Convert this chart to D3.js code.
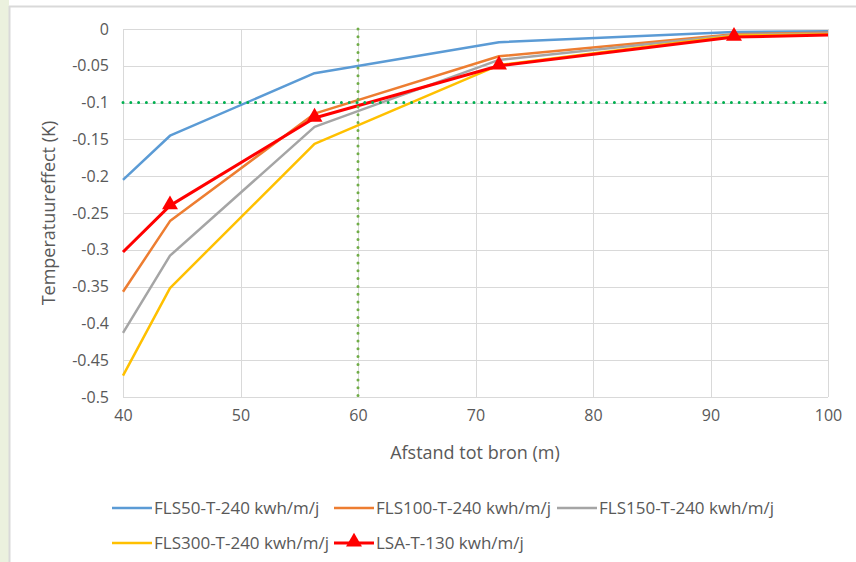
<!DOCTYPE html>
<html><head><meta charset="utf-8">
<script src="https://cdn.jsdelivr.net/npm/d3@7"></script>
<style>
html,body{margin:0;padding:0;background:#fff;}
svg{display:block;}
text{font-family:"Open Sans","Noto Sans",sans-serif;fill:#595959;}
</style></head>
<body>
<svg id="c" width="856" height="562"></svg>
<script>
const distances = [40, 44, 56.3, 72, 92, 100];
const seriesNames = ["FLS50-T-240 kwh/m/j","FLS100-T-240 kwh/m/j","FLS150-T-240 kwh/m/j","FLS300-T-240 kwh/m/j","LSA-T-130 kwh/m/j"];
const fls50  = [-0.205, -0.145, -0.060, -0.018, -0.004, -0.003];
const fls100 = [-0.357, -0.261, -0.115, -0.037, -0.007, -0.005];
const fls150 = [-0.413, -0.308, -0.133, -0.042, -0.008, -0.006];
const fls300 = [-0.471, -0.352, -0.156, -0.049, -0.009, -0.007];
const lsa    = [-0.303, -0.240, -0.121, -0.050, -0.011, -0.008];
const xTicks = [40, 50, 60, 70, 80, 90, 100];
const yTicks = [0, -0.05, -0.1, -0.15, -0.2, -0.25, -0.3, -0.35, -0.4, -0.45, -0.5];
const thresholdY = -0.1;
const thresholdX = 60;

const colors = ["#5b9bd5","#ed7d31","#a5a5a5","#ffc000","#ff0000"];
const allSeries = [fls50, fls100, fls150, fls300, lsa];

const svg = d3.select("#c");
// frame
svg.append("rect").attr("x",0).attr("y",0).attr("width",9).attr("height",562).attr("fill","#ebf1de");
svg.append("line").attr("x1",9.5).attr("x2",9.5).attr("y1",6).attr("y2",562).attr("stroke","#d9d9d9").attr("stroke-width",2);
svg.append("line").attr("x1",9).attr("x2",856).attr("y1",6.5).attr("y2",6.5).attr("stroke","#d9d9d9").attr("stroke-width",2);

const x = d3.scaleLinear().domain([40,100]).range([123,828]);
const y = d3.scaleLinear().domain([-0.5,0]).range([397,29]);

// gridlines
const g = svg.append("g");
g.selectAll(".hg").data(yTicks).join("line")
  .attr("x1",x(40)).attr("x2",x(100)).attr("y1",d=>Math.round(y(d))+0.5).attr("y2",d=>Math.round(y(d))+0.5)
  .attr("stroke","#d9d9d9").attr("stroke-width",1);
g.selectAll(".vg").data(xTicks).join("line")
  .attr("y1",y(0)).attr("y2",y(-0.5)).attr("x1",d=>Math.round(x(d))+0.5).attr("x2",d=>Math.round(x(d))+0.5)
  .attr("stroke","#d9d9d9").attr("stroke-width",1);

// axes labels via d3 axes
const ya = svg.append("g").attr("transform",`translate(${x(40)},0)`)
  .call(d3.axisLeft(y).tickValues(yTicks).tickSize(0).tickPadding(14).tickFormat(d=>d===0?"0":String(d)));
ya.select(".domain").remove();
ya.selectAll("text").attr("font-size",16).style("font-family","'Open Sans','Noto Sans',sans-serif").attr("fill","#595959");
const xa = svg.append("g").attr("transform",`translate(0,${y(-0.5)})`)
  .call(d3.axisBottom(x).tickValues(xTicks).tickSize(0).tickPadding(13).tickFormat(d3.format("d")));
xa.select(".domain").remove();
xa.selectAll("text").attr("font-size",16).style("font-family","'Open Sans','Noto Sans',sans-serif").attr("fill","#595959");

// axis titles
svg.append("text").attr("x",475).attr("y",459).attr("text-anchor","middle").attr("font-size",18).text("Afstand tot bron (m)");
svg.append("text").attr("transform","translate(55,213) rotate(-90)").attr("text-anchor","middle").attr("font-size",18).text("Temperatuureffect (K)");

// series lines
const line = d3.line().x((d,i)=>x(distances[i])).y(d=>y(d));
allSeries.forEach((s,k)=>{
  svg.append("path").datum(s).attr("d",line).attr("fill","none")
    .attr("stroke",colors[k]).attr("stroke-width",k===4?3:2.5).attr("stroke-linejoin","round");
});

// threshold dotted lines
svg.append("line").attr("x1",x(40)).attr("x2",x(100)).attr("y1",y(thresholdY)).attr("y2",y(thresholdY))
  .attr("stroke","#00b050").attr("stroke-width",3).attr("stroke-dasharray","0,7.8").attr("stroke-linecap","round");
svg.append("line").attr("x1",x(thresholdX)).attr("x2",x(thresholdX)).attr("y1",y(0)).attr("y2",y(-0.5))
  .attr("stroke","#70ad47").attr("stroke-width",3).attr("stroke-dasharray","0,7.8").attr("stroke-linecap","round");

// markers on LSA (skip first and last point as in reference)
const tri = d3.symbol().type(d3.symbolTriangle).size(110);
svg.selectAll(".m").data(lsa.map((v,i)=>({v,i})).filter(d=>d.i>0 && d.i<5)).join("path")
  .attr("d",tri).attr("fill","#ff0000")
  .attr("transform",d=>`translate(${x(distances[d.i])},${y(d.v)-1})`);

// legend
const legendPos = [[112,508],[334,508],[557,508],[112,543],[334,543]];
seriesNames.forEach((n,k)=>{
  const [lx,ly] = legendPos[k];
  svg.append("line").attr("x1",lx).attr("x2",lx+40).attr("y1",ly).attr("y2",ly)
    .attr("stroke",colors[k]).attr("stroke-width",k===4?3:2.5);
  if(k===4){
    svg.append("path").attr("d",tri).attr("fill","#ff0000").attr("transform",`translate(${lx+20},${ly-1})`);
  }
  svg.append("text").attr("x",lx+42).attr("y",ly+6).attr("font-size",17).text(n);
});
</script>
</body></html>
